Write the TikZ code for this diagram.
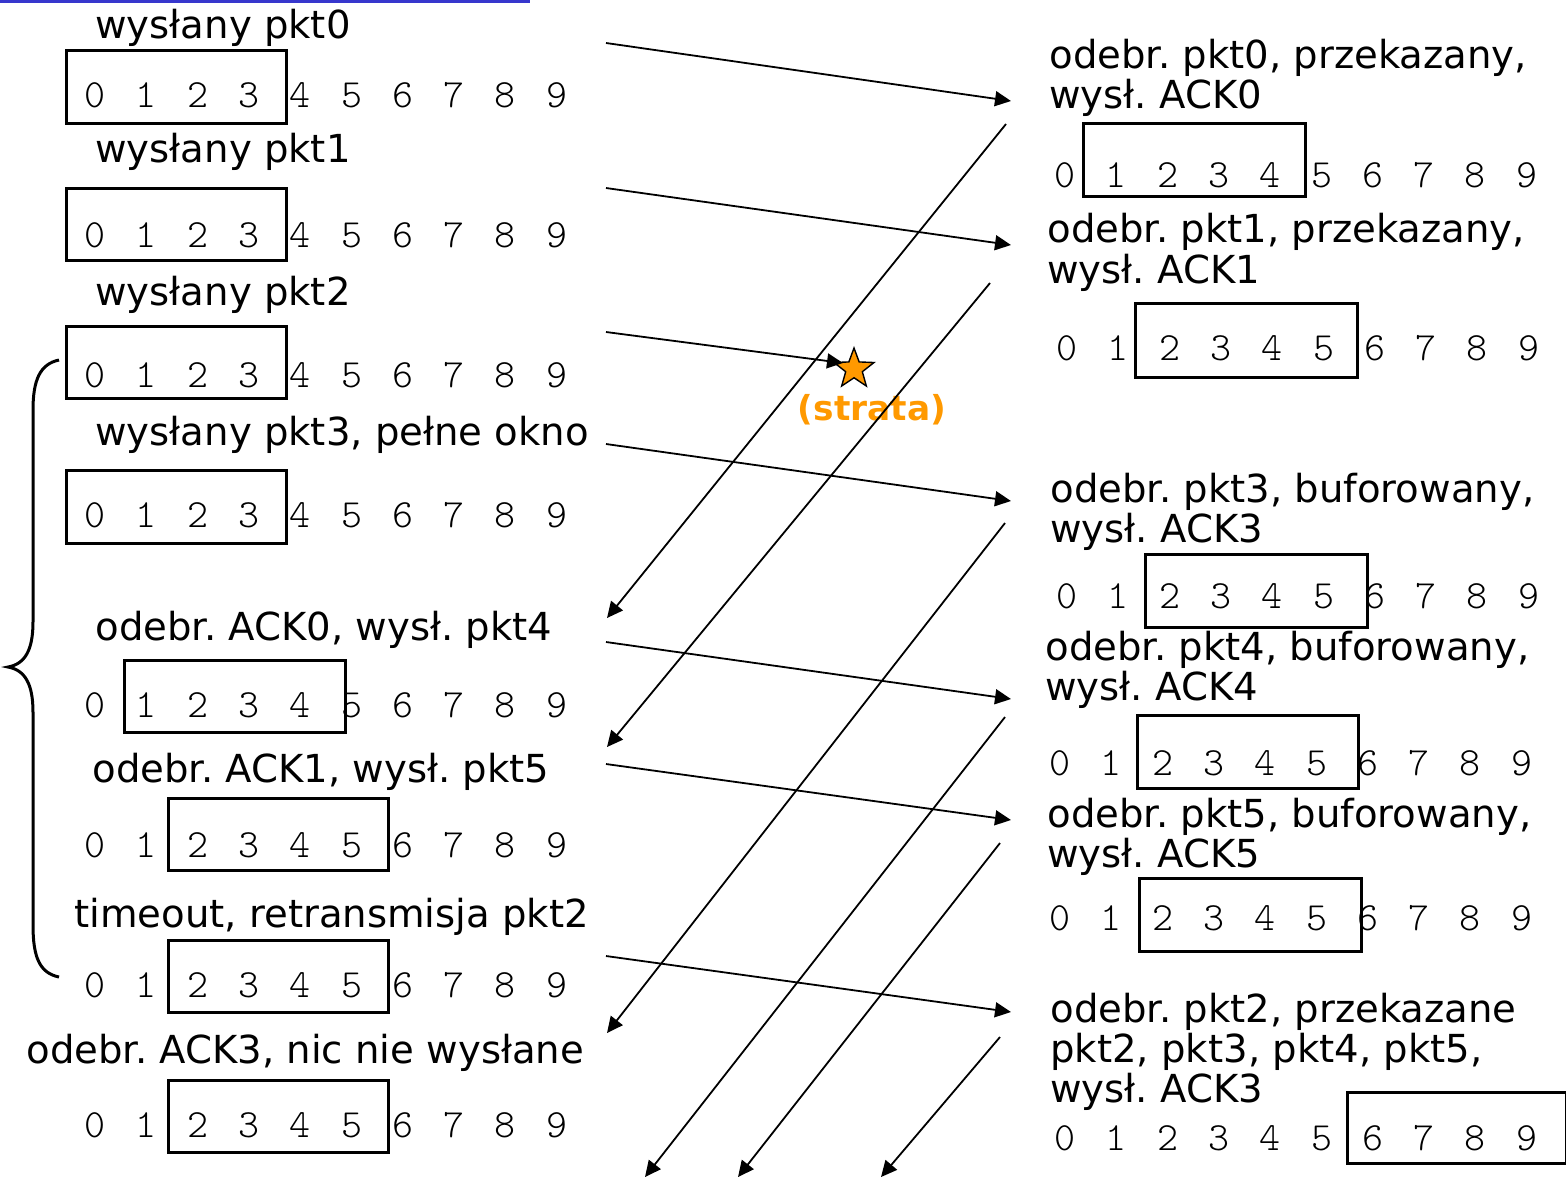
\documentclass[tikz,border=0pt]{standalone}
\usepackage{fontspec}
\setmainfont{DejaVu Sans}
\newfontfamily\digitfont{lmmonolt10-regular.otf}
\usetikzlibrary{arrows.meta,shapes.geometric}
\definecolor{topblue}{RGB}{55,55,205}
\definecolor{lossorange}{RGB}{255,153,0}
\newcommand\winbox[5]{\node[win,minimum width={(#4-#2)*0.5pt},minimum height={(#5-#3)*0.5pt}] (#1) at ({(#2+#4)/2},{(#3+#5)/2}) {};}
\newcommand\digrow[3]{\foreach \i in {0,...,9} {\node[dig] (#1\i) at ({#2+\i*51.3},#3) {\i};}}
\begin{document}
\frenchspacing
\begin{tikzpicture}[x=0.5pt,y=-0.5pt,
  lbl/.style={anchor=base west,inner sep=0pt,font=\fontsize{19.3}{20}\selectfont},
  dig/.style={anchor=base,inner sep=0pt,font=\digitfont\fontsize{20}{20}\selectfont},
  win/.style={draw,line width=1.5pt,inner sep=0pt},
  msg/.style={line width=0.9pt,-{Triangle[length=8pt,width=7.5pt]}}]
\useasboundingbox (0,0) rectangle (1566,1180);
\draw[topblue,line width=1.5pt] (0,1) -- (530,1);
% ---------- sender side ----------
\node[lbl] (L1) at (95,38) {wysłany pkt0};
\winbox{W1}{66}{50}{286}{123}
\digrow{La}{95}{107}
\node[lbl] (L2) at (95,162) {wysłany pkt1};
\winbox{W2}{66}{188}{286}{260}
\digrow{Lb}{95}{247}
\node[lbl] (L3) at (95,305) {wysłany pkt2};
\winbox{W3}{66}{326}{286}{398}
\digrow{Lc}{95}{387}
\node[lbl] (L4) at (95,445) {wysłany pkt3, pełne okno};
\winbox{W4}{66}{470}{286}{543}
\digrow{Ld}{95}{527}
\node[lbl] (L5) at (95,640) {odebr. ACK0, wysł. pkt4};
\winbox{W5}{124}{660}{345}{732}
\digrow{Le}{95}{717}
\node[lbl] (L6) at (92,782) {odebr. ACK1, wysł. pkt5};
\winbox{W6}{168}{798}{388}{870}
\digrow{Lf}{95}{857}
\node[lbl] (L7) at (74,927) {timeout, retransmisja pkt2};
\winbox{W7}{168}{940}{388}{1012}
\digrow{Lg}{95}{997}
\node[lbl] (L8) at (26,1063) {odebr. ACK3, nic nie wysłane};
\winbox{W8}{168}{1080}{388}{1152}
\digrow{Lh}{95}{1137}
% brace
\draw[line width=1.5pt] (59,360) .. controls (40,364) and (33,380) .. (33,410) -- (33,622)
  .. controls (33,650) and (25,664) .. (8,667) .. controls (25,670) and (33,684) .. (33,712)
  -- (33,925) .. controls (33,958) and (40,973) .. (59,977);
% ---------- receiver side ----------
\node[lbl] (R1a) at (1049,68) {odebr. pkt0, przekazany,};
\node[lbl] (R1b) at (1049,108) {wysł. ACK0};
\winbox{V1}{1083}{123}{1305}{196}
\digrow{Ra}{1065}{187}
\node[lbl] (R2a) at (1047,242) {odebr. pkt1, przekazany,};
\node[lbl] (R2b) at (1047,283) {wysł. ACK1};
\winbox{V2}{1135}{303}{1357}{377}
\digrow{Rb}{1067}{360}
\node[lbl] (R3a) at (1050,502) {odebr. pkt3, buforowany,};
\node[lbl] (R3b) at (1050,542) {wysł. ACK3};
\winbox{V3}{1145}{554}{1367}{627}
\digrow{Rc}{1067}{608}
\node[lbl] (R4a) at (1045,660) {odebr. pkt4, buforowany,};
\node[lbl] (R4b) at (1045,700) {wysł. ACK4};
\winbox{V4}{1137}{715}{1358}{788}
\digrow{Rd}{1060}{775}
\node[lbl] (R5a) at (1047,827) {odebr. pkt5, buforowany,};
\node[lbl] (R5b) at (1047,867) {wysł. ACK5};
\winbox{V5}{1139}{878}{1361}{951}
\digrow{Re}{1060}{930}
\node[lbl] (R6a) at (1050,1022) {odebr. pkt2, przekazane};
\node[lbl] (R6b) at (1050,1062) {pkt2, pkt3, pkt4, pkt5,};
\node[lbl] (R6c) at (1050,1102) {wysł. ACK3};
\winbox{V6}{1347}{1092}{1566}{1163}
\digrow{Rf}{1065}{1150}
% ---------- loss ----------
\node[star,star points=5,star point ratio=2.4,minimum size=21pt,inner sep=0pt,
  draw=black,line width=0.7pt,fill=lossorange] (loss) at (854,369) {};
\node[anchor=base,inner sep=0pt,text=lossorange,font=\bfseries\fontsize{17.2}{20}\selectfont] (strata) at (872,420) {(strata)};
% ---------- message endpoints ----------
\coordinate (d0s) at (606,43);   \coordinate (d0e) at (1011,101);
\coordinate (d1s) at (606,188);  \coordinate (d1e) at (1011,245);
\coordinate (d2s) at (606,332);  \coordinate (d2e) at (843,363);
\coordinate (d3s) at (606,444);  \coordinate (d3e) at (1011,501);
\coordinate (d4s) at (606,642);  \coordinate (d4e) at (1011,699);
\coordinate (d5s) at (606,764);  \coordinate (d5e) at (1011,820);
\coordinate (d6s) at (606,956);  \coordinate (d6e) at (1011,1012);
\coordinate (a0s) at (1006,124); \coordinate (a0e) at (607,618);
\coordinate (a1s) at (990,283);  \coordinate (a1e) at (607,747);
\coordinate (a3s) at (1005,523); \coordinate (a3e) at (607,1033);
\coordinate (a4s) at (1005,717); \coordinate (a4e) at (645,1177);
\coordinate (a5s) at (1000,843); \coordinate (a5e) at (738,1177);
\coordinate (a6s) at (1000,1037);\coordinate (a6e) at (881,1177);
\foreach \m in {d0,d1,d2,d3,d4,d5,d6,a0,a1,a3,a4,a5,a6}
  \draw[msg] (\m s) -- (\m e);
\end{tikzpicture}
\end{document}
